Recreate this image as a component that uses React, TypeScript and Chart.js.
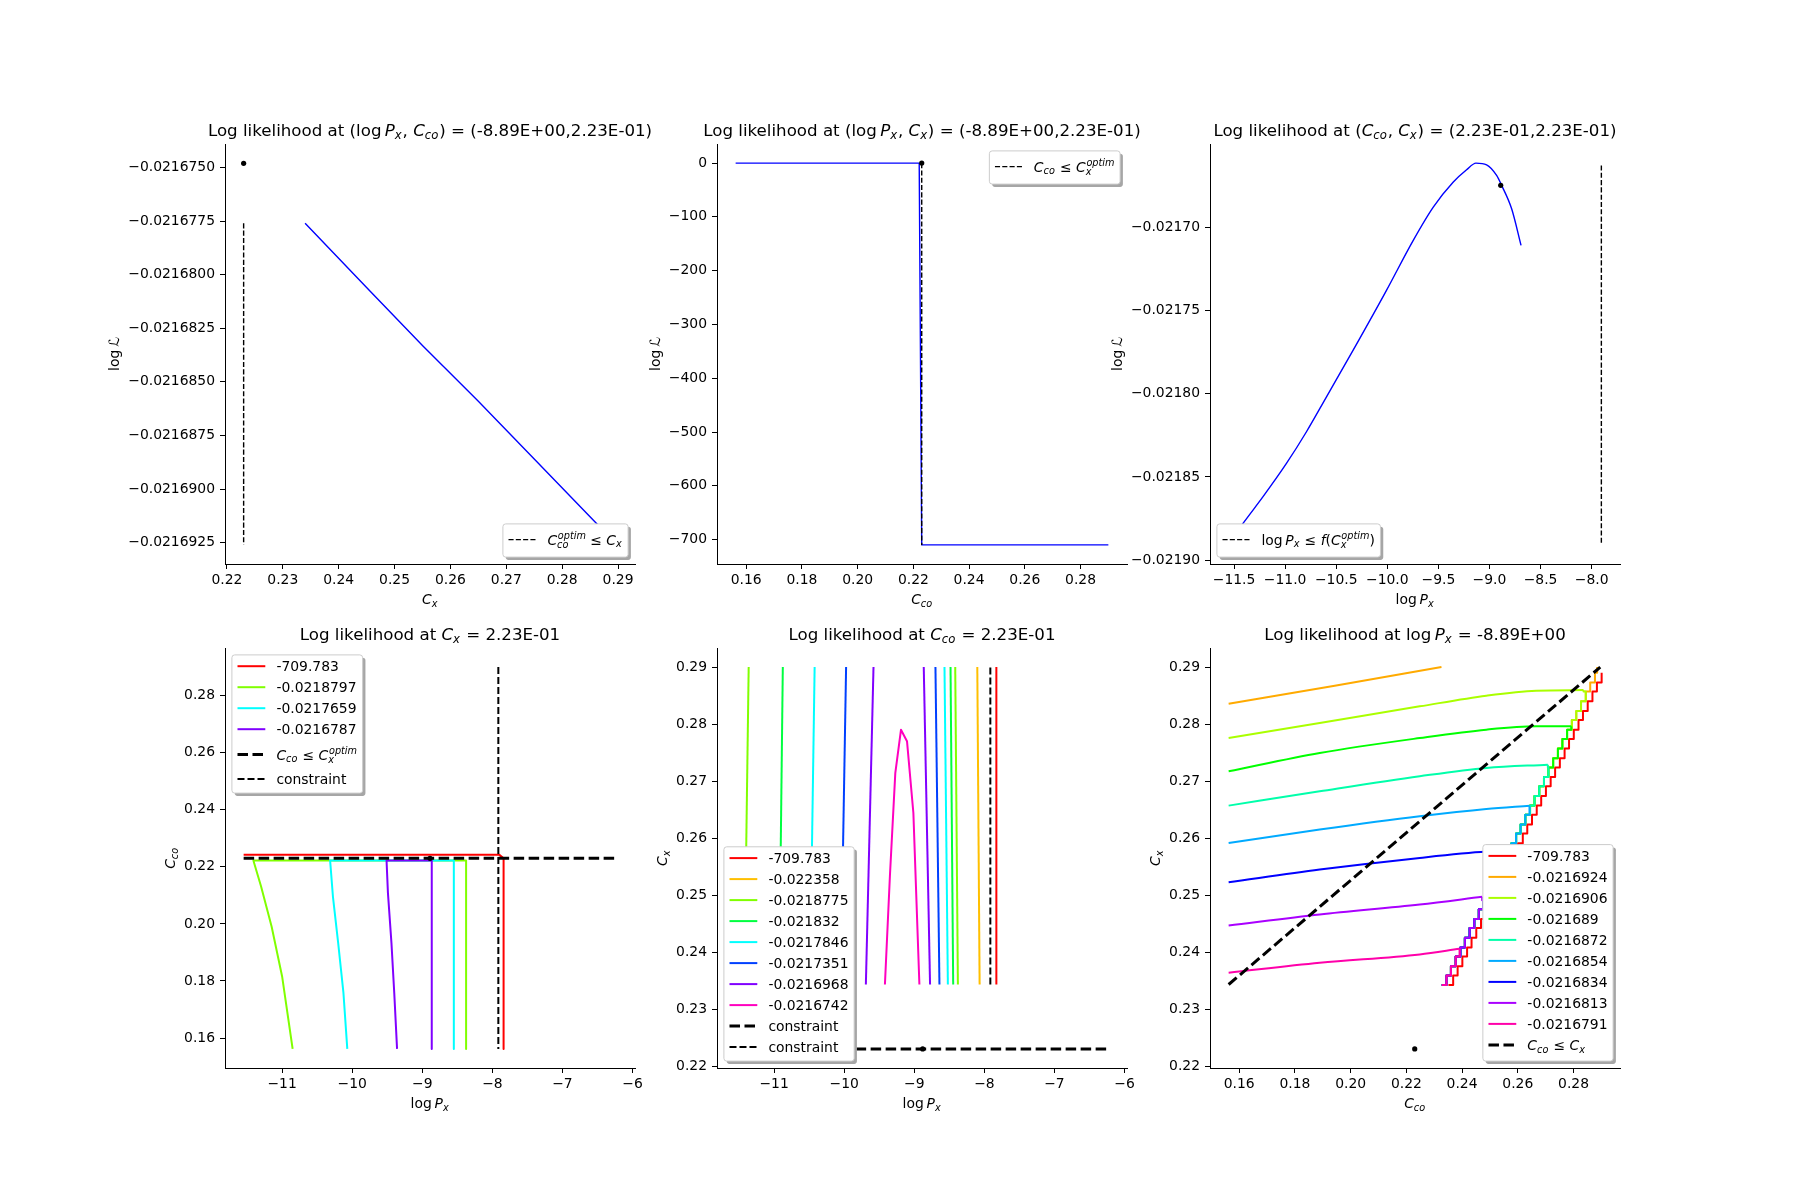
import React, { useEffect, useRef } from 'react';
import { Chart, registerables } from 'chart.js';
Chart.register(...registerables);

// ---------------- DATA ----------------
// Panel 1: log L vs C_x at (log Px, Cco) = (-8.89, 0.223)
const p1Cx = [0.234, 0.245, 0.255, 0.265, 0.275, 0.2865, 0.2897];
const p1LogL = [-0.0216776, -0.0216806, -0.0216833, -0.0216859, -0.0216886, -0.0216917, -0.0216926];
const p1DashCx = [0.223, 0.223];
const p1DashLogL = [-0.0216776, -0.0216926];
const p1OptCx = [0.223];
const p1OptLogL = [-0.0216748];
const p1XTicks = [0.22, 0.23, 0.24, 0.25, 0.26, 0.27, 0.28, 0.29];
const p1XLabels = ['0.22', '0.23', '0.24', '0.25', '0.26', '0.27', '0.28', '0.29'];
const p1YTicks = [-0.0216925, -0.02169, -0.0216875, -0.021685, -0.0216825, -0.02168, -0.0216775, -0.021675];
const p1YLabels = ['−0.0216925', '−0.0216900', '−0.0216875', '−0.0216850', '−0.0216825', '−0.0216800', '−0.0216775', '−0.0216750'];

// Panel 2: log L vs C_co
const p2Cco = [0.1562, 0.2221, 0.223, 0.29];
const p2LogL = [-0.0217, -0.0217, -709.783, -709.783];
const p2DashCco = [0.223, 0.223];
const p2DashLogL = [-0.0217, -709.783];
const p2OptCco = [0.223];
const p2OptLogL = [-0.0217];
const p2XTicks = [0.16, 0.18, 0.2, 0.22, 0.24, 0.26, 0.28];
const p2XLabels = ['0.16', '0.18', '0.20', '0.22', '0.24', '0.26', '0.28'];
const p2YTicks = [-700, -600, -500, -400, -300, -200, -100, 0];
const p2YLabels = ['−700', '−600', '−500', '−400', '−300', '−200', '−100', '0'];

// Panel 3: log L vs log Px
const p3LogPx = [-11.552, -11.412, -11.216, -10.987, -10.791, -10.595, -10.334, -10.008, -9.746, -9.55, -9.354, -9.224, -9.132, -9.028, -8.93, -8.881, -8.783, -8.691];
const p3LogL = [-0.0218904, -0.021878, -0.0218619, -0.0218419, -0.0218228, -0.0218018, -0.0217737, -0.0217377, -0.0217076, -0.0216876, -0.0216725, -0.0216651, -0.0216611, -0.0216621, -0.0216685, -0.0216745, -0.0216886, -0.0217106];
const p3DashLogPx = [-7.905, -7.905];
const p3DashLogL = [-0.0216625, -0.0218909];
const p3OptLogPx = [-8.89];
const p3OptLogL = [-0.0216745];
const p3XTicks = [-11.5, -11, -10.5, -10, -9.5, -9, -8.5, -8];
const p3XLabels = ['−11.5', '−11.0', '−10.5', '−10.0', '−9.5', '−9.0', '−8.5', '−8.0'];
const p3YTicks = [-0.0219, -0.02185, -0.0218, -0.02175, -0.0217];
const p3YLabels = ['−0.02190', '−0.02185', '−0.02180', '−0.02175', '−0.02170'];

// Panel 4: contours at C_x = 0.223 (x: log Px, y: Cco)
const p4Levels = ['-709.783', '-0.0218797', '-0.0217659', '-0.0216787'];
const p4Colors = ['#ff0000', '#80ff00', '#00ffff', '#8000ff'];
const p4RedLogPx = [-11.549, -7.9, -7.84, -7.84];
const p4RedCco = [0.2242, 0.2242, 0.223, 0.1562];
const p4LimeLogPx = [-10.85, -11.0, -11.15, -11.3, -11.41, -8.375, -8.375];
const p4LimeCco = [0.1562, 0.1816, 0.1991, 0.2131, 0.2222, 0.2222, 0.1562];
const p4CyanLogPx = [-10.07, -10.125, -10.2, -10.275, -10.315, -8.55, -8.55];
const p4CyanCco = [0.1562, 0.1758, 0.1933, 0.2096, 0.2222, 0.2222, 0.1562];
const p4VioletLogPx = [-9.36, -9.4, -9.44, -9.49, -9.51, -8.865, -8.865];
const p4VioletCco = [0.1562, 0.1758, 0.1933, 0.2108, 0.2222, 0.2222, 0.1562];
const p4OptimLogPx = [-11.549, -6.231];
const p4OptimCco = [0.223, 0.223];
const p4ConstrLogPx = [-7.915, -7.915];
const p4ConstrCco = [0.29, 0.1562];
const p4PointLogPx = [-8.89];
const p4PointCco = [0.223];
const p4XTicks = [-11, -10, -9, -8, -7, -6];
const p4XLabels = ['−11', '−10', '−9', '−8', '−7', '−6'];
const p4YTicks = [0.16, 0.18, 0.2, 0.22, 0.24, 0.26, 0.28];
const p4YLabels = ['0.16', '0.18', '0.20', '0.22', '0.24', '0.26', '0.28'];

// Panel 5: contours at Cco = 0.223 (x: log Px, y: C_x)
const p5Levels = ['-709.783', '-0.022358', '-0.0218775', '-0.021832', '-0.0217846', '-0.0217351', '-0.0216968', '-0.0216742'];
const p5Colors = ['#ff0000', '#ffbf00', '#80ff00', '#00ff40', '#00ffff', '#0040ff', '#8000ff', '#ff00bf'];
const p5EdgeCx = [0.2343, 0.29];
const p5LeftBottom = [NaN, NaN, -11.425, -10.928, -10.489, -10.05, -9.691, NaN];
const p5LeftTop = [NaN, NaN, -11.363, -10.876, -10.422, -9.973, -9.582, NaN];
const p5RightBottom = [-7.829, -8.068, -8.378, -8.445, -8.521, -8.641, -8.775, NaN];
const p5RightTop = [-7.829, -8.101, -8.416, -8.483, -8.569, -8.698, -8.865, NaN];
const p5ArchLogPx = [-9.419, -9.348, -9.271, -9.19, -9.104, -9.013, -8.927];
const p5ArchCx = [0.2343, 0.2533, 0.2714, 0.279, 0.277, 0.2644, 0.2343];
const p5HConstrLogPx = [-11.549, -6.231];
const p5HConstrCx = [0.223, 0.223];
const p5VConstrLogPx = [-7.915, -7.915];
const p5VConstrCx = [0.2343, 0.29];
const p5PointLogPx = [-8.88];
const p5PointCx = [0.223];
const p5YTicks = [0.22, 0.23, 0.24, 0.25, 0.26, 0.27, 0.28, 0.29];
const p5YLabels = ['0.22', '0.23', '0.24', '0.25', '0.26', '0.27', '0.28', '0.29'];

// Panel 6: contours at log Px = -8.89 (x: Cco, y: C_x)
const p6Levels = ['-709.783', '-0.0216924', '-0.0216906', '-0.021689', '-0.0216872', '-0.0216854', '-0.0216834', '-0.0216813', '-0.0216791'];
const p6Colors = ['#ff0000', '#ffaa00', '#aaff00', '#00ff00', '#00ffaa', '#00aaff', '#0000ff', '#aa00ff', '#ff00aa'];
const p6OrangeCco = [0.1562, 0.1943, 0.2326];
const p6OrangeCx = [0.28357, 0.28673, 0.29];
const p6YellowGreenCco = [0.1562, 0.1889, 0.2248, 0.2487, 0.2666, 0.2836];
const p6YellowGreenCx = [0.27755, 0.28018, 0.28311, 0.28498, 0.28586, 0.28597];
const p6GreenCco = [0.1562, 0.1889, 0.2248, 0.2487, 0.2666, 0.2792];
const p6GreenCx = [0.27171, 0.27493, 0.27755, 0.27902, 0.2796, 0.2796];
const p6SpringCco = [0.1562, 0.1889, 0.2248, 0.2487, 0.2708];
const p6SpringCx = [0.26569, 0.26821, 0.27084, 0.2723, 0.27288];
const p6SkyCco = [0.1562, 0.1889, 0.2248, 0.2487, 0.2642];
const p6SkyCx = [0.25915, 0.26149, 0.26382, 0.26511, 0.26569];
const p6BlueCco = [0.1562, 0.1889, 0.2248, 0.2487, 0.257];
const p6BlueCx = [0.25225, 0.25447, 0.25652, 0.25763, 0.2578];
const p6VioletCco = [0.1562, 0.1889, 0.2248, 0.2472];
const p6VioletCx = [0.24466, 0.24659, 0.24834, 0.24968];
const p6MagentaCco = [0.1562, 0.1889, 0.2248, 0.2391];
const p6MagentaCx = [0.23636, 0.23811, 0.23957, 0.24057];
const p6OrangeStairTop = [0.2885, 0.29];
// jagged boundary (bottom -> top)
const p6StairCx = [0.2342, 0.2359, 0.2375, 0.2392, 0.2408, 0.2425, 0.2442, 0.2458, 0.2475, 0.2491, 0.2508, 0.2525, 0.2541, 0.2558, 0.2574, 0.2591, 0.2608, 0.2624, 0.2641, 0.2657, 0.2674, 0.2691, 0.2707, 0.2724, 0.274, 0.2757, 0.2774, 0.279, 0.2807, 0.2823, 0.284, 0.2857, 0.2873, 0.289];
const p6StairOuterCco = [0.2351, 0.2368, 0.2384, 0.2401, 0.2418, 0.2434, 0.2451, 0.2468, 0.2484, 0.2501, 0.2518, 0.2534, 0.2551, 0.2568, 0.2584, 0.2601, 0.2618, 0.2634, 0.2651, 0.2668, 0.2684, 0.2701, 0.2718, 0.2734, 0.2751, 0.2768, 0.2784, 0.2801, 0.2818, 0.2834, 0.2851, 0.2868, 0.2884, 0.2901];
const p6StairInnerCco = [0.2327, 0.2344, 0.236, 0.2377, 0.2394, 0.241, 0.2427, 0.2444, 0.246, 0.2477, 0.2494, 0.251, 0.2527, 0.2544, 0.256, 0.2577, 0.2594, 0.261, 0.2627, 0.2644, 0.266, 0.2677, 0.2694, 0.271, 0.2727, 0.2744, 0.276, 0.2777, 0.2794, 0.281, 0.2827, 0.2844, 0.286, 0.2877];
const p6DiagCco = [0.1562, 0.2896];
const p6DiagCx = [0.2343, 0.29];
const p6PointCco = [0.223];
const p6PointCx = [0.223];

// ---------------- LAYOUT / STYLE ----------------
const FONT = '"DejaVu Sans", "Noto Sans", sans-serif';
const FS = 13.9;
const TFS = 16.67;
const AX_L = [225, 717, 1210];
const AX_T = [144, 648];
const AX_W = 410;
const AX_H = 420;
const PL = 150, PR = 30, PT = 40, PB = 60;

const THIN = { color: '#000000', width: 1.4, dash: [5.1, 2.2] };
const THICK = { color: '#000000', width: 3, dash: [10.5, 4.5] };
const MID = { color: '#000000', width: 2, dash: [7, 3] };
const BLUE = '#0000ff';
const CW = 2;

type Seg = { t?: string; i?: boolean; sub?: string; sup?: string };
type Series = { pts: { x: number; y: number }[]; color: string; width: number; dash?: number[]; stepped?: any; dot?: boolean; smooth?: boolean };
type LegItem = { label: Seg[]; color: string; width: number; dash?: number[]; kind: 'plain' | 'sub' | 'subsup' };

const zip = (xs: number[], ys: number[]) => xs.map((x, i) => ({ x, y: ys[i] }));
const line = (xs: number[], ys: number[], st: any): Series => ({ pts: zip(xs, ys), color: st.color, width: st.width, dash: st.dash });
const dot = (xs: number[], ys: number[]): Series => ({ pts: zip(xs, ys), color: '#000000', width: 0, dot: true });

// labels
const Cco: Seg = { t: 'C', i: true, sub: 'co' };
const Cx: Seg = { t: 'C', i: true, sub: 'x' };
const Px: Seg = { t: 'P', i: true, sub: 'x' };
const CcoOpt: Seg = { t: 'C', i: true, sub: 'co', sup: 'optim' };
const CxOpt: Seg = { t: 'C', i: true, sub: 'x', sup: 'optim' };
const LOG = 'log\u2009';
const logL: Seg[] = [{ t: LOG + 'ℒ' }];

const plainItems = (levels: string[], colors: string[]): LegItem[] =>
  levels.map((l, i) => ({ label: [{ t: l }], color: colors[i], width: CW, kind: 'plain' }));

// panel 5 series
const p5Series: Series[] = [];
p5Levels.forEach((_, i) => {
  if (!isNaN(p5LeftTop[i])) p5Series.push({ pts: zip([p5LeftBottom[i], p5LeftTop[i]], p5EdgeCx), color: p5Colors[i], width: CW });
  if (!isNaN(p5RightTop[i])) p5Series.push({ pts: zip([p5RightBottom[i], p5RightTop[i]], p5EdgeCx), color: p5Colors[i], width: CW });
});
p5Series.push({ pts: zip(p5ArchLogPx, p5ArchCx), color: p5Colors[7], width: CW });

// panel 6 series
function stairFrom(xe: number, ye: number, stairX: number[]) {
  const pts = [{ x: xe, y: ye }];
  for (let k = p6StairCx.length - 1; k >= 0; k--) if (p6StairCx[k] < ye - 1e-6) pts.push({ x: stairX[k], y: p6StairCx[k] });
  return pts;
}
const p6CurveList: [number[], number[]][] = [
  [p6OrangeCco, p6OrangeCx], [p6YellowGreenCco, p6YellowGreenCx], [p6GreenCco, p6GreenCx], [p6SpringCco, p6SpringCx],
  [p6SkyCco, p6SkyCx], [p6BlueCco, p6BlueCx], [p6VioletCco, p6VioletCx], [p6MagentaCco, p6MagentaCx],
];
const p6Series: Series[] = [];
{
  const n = p6StairCx.length - 1;
  p6Series.push({ pts: stairFrom(p6StairOuterCco[n], p6StairCx[n], p6StairOuterCco), color: p6Colors[0], width: CW, stepped: 'after' });
  p6CurveList.forEach(([xs, ys], j) => {
    const c = p6Colors[j + 1];
    p6Series.push({ pts: zip(xs, ys), color: c, width: CW, smooth: true });
    if (j === 0) {
      p6Series.push({ pts: stairFrom(p6OrangeStairTop[0], p6OrangeStairTop[1], p6StairInnerCco), color: c, width: CW, stepped: 'after' });
    } else {
      p6Series.push({ pts: stairFrom(xs[xs.length - 1], ys[ys.length - 1], p6StairInnerCco), color: c, width: CW, stepped: 'after' });
    }
  });
}

const panels = [
  {
    col: 0, row: 0, xMin: 0.219665, xMax: 0.293035, yMin: -0.0216935, yMax: -0.0216739,
    xTicks: p1XTicks, xLabels: p1XLabels, yTicks: p1YTicks, yLabels: p1YLabels,
    title: [{ t: 'Log likelihood at (' + LOG }, Px, { t: ', ' }, Cco, { t: ') = (-8.89E+00,2.23E-01)' }],
    xlabel: [Cx], ylabel: logL, legLoc: 'lower right',
    legend: [{ label: [CcoOpt, { t: ' ≤ ' }, Cx], ...THIN, kind: 'subsup' }],
    series: [{ pts: zip(p1Cx, p1LogL), color: BLUE, width: 1.4 }, line(p1DashCx, p1DashLogL, THIN), dot(p1OptCx, p1OptLogL)],
  },
  {
    col: 1, row: 0, xMin: 0.14951, xMax: 0.29669, yMin: -745.27, yMax: 35.47,
    xTicks: p2XTicks, xLabels: p2XLabels, yTicks: p2YTicks, yLabels: p2YLabels,
    title: [{ t: 'Log likelihood at (' + LOG }, Px, { t: ', ' }, Cx, { t: ') = (-8.89E+00,2.23E-01)' }],
    xlabel: [Cco], ylabel: logL, legLoc: 'upper right',
    legend: [{ label: [Cco, { t: ' ≤ ' }, CxOpt], ...THIN, kind: 'subsup' }],
    series: [{ pts: zip(p2Cco, p2LogL), color: BLUE, width: 1.4 }, line(p2DashCco, p2DashLogL, THIN), dot(p2OptCco, p2OptLogL)],
  },
  {
    col: 2, row: 0, xMin: -11.7351, xMax: -7.7226, yMin: -0.0219024, yMax: -0.0216496,
    xTicks: p3XTicks, xLabels: p3XLabels, yTicks: p3YTicks, yLabels: p3YLabels,
    title: [{ t: 'Log likelihood at (' }, Cco, { t: ', ' }, Cx, { t: ') = (2.23E-01,2.23E-01)' }],
    xlabel: [{ t: LOG }, Px], ylabel: logL, legLoc: 'lower left',
    legend: [{ label: [{ t: LOG }, Px, { t: ' ≤ ' }, { t: 'f', i: true }, { t: '(' }, CxOpt, { t: ')' }], ...THIN, kind: 'subsup' }],
    series: [{ pts: zip(p3LogPx, p3LogL), color: BLUE, width: 1.4, smooth: true }, line(p3DashLogPx, p3DashLogL, THIN), dot(p3OptLogPx, p3OptLogL)],
  },
  {
    col: 0, row: 1, xMin: -11.815, xMax: -5.965, yMin: 0.14951, yMax: 0.29669,
    xTicks: p4XTicks, xLabels: p4XLabels, yTicks: p4YTicks, yLabels: p4YLabels,
    title: [{ t: 'Log likelihood at ' }, Cx, { t: ' = 2.23E-01' }],
    xlabel: [{ t: LOG }, Px], ylabel: [Cco], legLoc: 'upper left',
    legend: [
      ...plainItems(p4Levels, p4Colors),
      { label: [Cco, { t: ' ≤ ' }, CxOpt], ...THICK, kind: 'subsup' },
      { label: [{ t: 'constraint' }], ...MID, kind: 'plain' },
    ],
    series: [
      { pts: zip(p4RedLogPx, p4RedCco), color: p4Colors[0], width: CW },
      { pts: zip(p4LimeLogPx, p4LimeCco), color: p4Colors[1], width: CW },
      { pts: zip(p4CyanLogPx, p4CyanCco), color: p4Colors[2], width: CW },
      { pts: zip(p4VioletLogPx, p4VioletCco), color: p4Colors[3], width: CW },
      line(p4OptimLogPx, p4OptimCco, THICK),
      line(p4ConstrLogPx, p4ConstrCco, MID),
      dot(p4PointLogPx, p4PointCco),
    ],
  },
  {
    col: 1, row: 1, xMin: -11.815, xMax: -5.965, yMin: 0.21965, yMax: 0.29335,
    xTicks: p4XTicks, xLabels: p4XLabels, yTicks: p5YTicks, yLabels: p5YLabels,
    title: [{ t: 'Log likelihood at ' }, Cco, { t: ' = 2.23E-01' }],
    xlabel: [{ t: LOG }, Px], ylabel: [Cx], legLoc: 'lower left',
    legend: [
      ...plainItems(p5Levels, p5Colors),
      { label: [{ t: 'constraint' }], ...THICK, kind: 'plain' },
      { label: [{ t: 'constraint' }], ...MID, kind: 'plain' },
    ],
    series: [
      ...p5Series,
      line(p5HConstrLogPx, p5HConstrCx, THICK),
      line(p5VConstrLogPx, p5VConstrCx, MID),
      dot(p5PointLogPx, p5PointCx),
    ],
  },
  {
    col: 2, row: 1, xMin: 0.14951, xMax: 0.29669, yMin: 0.21965, yMax: 0.29335,
    xTicks: p2XTicks, xLabels: p2XLabels, yTicks: p5YTicks, yLabels: p5YLabels,
    title: [{ t: 'Log likelihood at ' + LOG }, Px, { t: ' = -8.89E+00' }],
    xlabel: [Cco], ylabel: [Cx], legLoc: 'lower right',
    legend: [
      ...plainItems(p6Levels, p6Colors),
      { label: [Cco, { t: ' ≤ ' }, Cx], ...THICK, kind: 'sub' },
    ],
    series: [...p6Series, line(p6DiagCco, p6DiagCx, THICK), dot(p6PointCco, p6PointCx)],
  },
];

// ---------------- RICH TEXT ----------------
const fontStr = (size: number, it: boolean) => `${it ? 'italic ' : ''}${size}px ${FONT}`;
function segWidth(ctx: CanvasRenderingContext2D, s: Seg, size: number) {
  let w = 0;
  if (s.t) { ctx.font = fontStr(size, !!s.i); w += ctx.measureText(s.t).width; }
  let sw = 0;
  ctx.font = fontStr(size * 0.7, true);
  if (s.sub) sw = Math.max(sw, ctx.measureText(s.sub).width);
  if (s.sup) sw = Math.max(sw, ctx.measureText(s.sup).width);
  return w + sw + (s.sub || s.sup ? size * 0.05 : 0);
}
function richWidth(ctx: CanvasRenderingContext2D, segs: Seg[], size: number) {
  return segs.reduce((a, s) => a + segWidth(ctx, s, size), 0);
}
function drawRich(ctx: CanvasRenderingContext2D, segs: Seg[], x: number, y: number, size: number) {
  ctx.textAlign = 'left';
  ctx.textBaseline = 'alphabetic';
  for (const s of segs) {
    if (s.t) {
      ctx.font = fontStr(size, !!s.i);
      ctx.fillText(s.t, x, y);
      x += ctx.measureText(s.t).width;
    }
    if (s.sub || s.sup) {
      ctx.font = fontStr(size * 0.7, true);
      let sw = 0;
      const both = !!(s.sub && s.sup);
      if (s.sub) { ctx.fillText(s.sub, x, y + size * (both ? 0.27 : 0.2)); sw = Math.max(sw, ctx.measureText(s.sub).width); }
      if (s.sup) { ctx.fillText(s.sup, x + size * 0.05, y - size * 0.42); sw = Math.max(sw, ctx.measureText(s.sup).width); }
      x += sw + size * 0.05;
    }
  }
}
function roundRect(ctx: CanvasRenderingContext2D, x: number, y: number, w: number, h: number, r: number) {
  ctx.beginPath();
  ctx.moveTo(x + r, y);
  ctx.lineTo(x + w - r, y); ctx.arcTo(x + w, y, x + w, y + r, r);
  ctx.lineTo(x + w, y + h - r); ctx.arcTo(x + w, y + h, x + w - r, y + h, r);
  ctx.lineTo(x + r, y + h); ctx.arcTo(x, y + h, x, y + h - r, r);
  ctx.lineTo(x, y + r); ctx.arcTo(x, y, x + r, y, r);
  ctx.closePath();
}
const KIND: any = { plain: { h: 14.1, b: 10.6 }, sub: { h: 16.3, b: 10.6 }, subsup: { h: 22, b: 15 } };
function drawLegend(ctx: CanvasRenderingContext2D, p: any, a: any) {
  const items: LegItem[] = p.legend;
  const pad = 5.6, hl = 27.8, htp = 11.1, ls = 6.9, bap = 6.9;
  const tw = Math.max(...items.map((it) => richWidth(ctx, it.label, FS)));
  const w = pad + hl + htp + tw + pad;
  const h = pad * 2 + items.reduce((s, it) => s + KIND[it.kind].h, 0) + ls * (items.length - 1);
  const x = p.legLoc.includes('left') ? a.left + bap : a.right - bap - w;
  const y = p.legLoc.includes('upper') ? a.top + bap : a.bottom - bap - h;
  roundRect(ctx, x + 2.8, y + 2.8, w, h, 2.8);
  ctx.fillStyle = '#a6a6a6';
  ctx.fill();
  roundRect(ctx, x, y, w, h, 2.8);
  ctx.fillStyle = '#ffffff';
  ctx.fill();
  ctx.strokeStyle = '#cccccc';
  ctx.lineWidth = 1;
  ctx.stroke();
  let ry = y + pad;
  for (const it of items) {
    const k = KIND[it.kind];
    const base = ry + k.b;
    const hy = base - 4.9;
    ctx.beginPath();
    ctx.setLineDash(it.dash || []);
    ctx.lineWidth = it.width;
    ctx.strokeStyle = it.color;
    ctx.lineCap = 'butt';
    ctx.moveTo(x + pad, hy);
    ctx.lineTo(x + pad + hl, hy);
    ctx.stroke();
    ctx.setLineDash([]);
    ctx.fillStyle = '#000000';
    drawRich(ctx, it.label, x + pad + hl + htp, base, FS);
    ry += k.h + ls;
  }
}
function decor(p: any) {
  return {
    id: 'mplDecor',
    afterDraw(chart: any) {
      const ctx: CanvasRenderingContext2D = chart.ctx;
      const a = chart.chartArea;
      ctx.save();
      ctx.fillStyle = '#000000';
      const tw = richWidth(ctx, p.title, TFS);
      drawRich(ctx, p.title, (a.left + a.right) / 2 - tw / 2, a.top - 8.3, TFS);
      const xw = richWidth(ctx, p.xlabel, FS);
      drawRich(ctx, p.xlabel, (a.left + a.right) / 2 - xw / 2, a.bottom + 40, FS);
      ctx.font = fontStr(FS, false);
      const maxTick = Math.max(...p.yLabels.map((l: string) => ctx.measureText(l).width));
      const bx = a.left - 9.7 - maxTick - 5.6 - 3.5;
      const yw = richWidth(ctx, p.ylabel, FS);
      ctx.save();
      ctx.translate(bx, (a.top + a.bottom) / 2);
      ctx.rotate(-Math.PI / 2);
      drawRich(ctx, p.ylabel, -yw / 2, 0, FS);
      ctx.restore();
      drawLegend(ctx, p, a);
      ctx.restore();
    },
  };
}

function axisCfg(isX: boolean, min: number, max: number, ticks: number[], labels: string[]) {
  return {
    type: 'linear',
    position: isX ? 'bottom' : 'left',
    min,
    max,
    afterBuildTicks: (s: any) => { s.ticks = ticks.map((v) => ({ value: v })); },
    afterFit: (s: any) => { if (isX) s.height = PB; else s.width = PL; },
    ticks: {
      autoSkip: false, maxRotation: 0, minRotation: 0, padding: isX ? 3 : 5, color: '#000000',
      font: { family: FONT, size: FS },
      callback: (_v: any, i: number) => labels[i],
    },
    grid: { display: true, drawOnChartArea: false, drawTicks: true, tickLength: 5, tickWidth: 1, color: '#000000', lineWidth: 1 },
    border: { display: true, color: '#000000', width: 1 },
  };
}

function PanelView({ p }: { p: any }) {
  const ref = useRef<HTMLCanvasElement>(null);
  const W = AX_W + PL + PR;
  const H = AX_H + PT + PB;
  useEffect(() => {
    const n = p.series.length;
    const datasets = p.series.map((s: Series, i: number) => ({
      data: s.pts,
      showLine: !s.dot,
      borderColor: s.color,
      backgroundColor: s.color,
      borderWidth: s.dot ? 0 : s.width,
      borderDash: s.dash || [],
      borderCapStyle: 'butt',
      borderJoinStyle: 'round',
      pointRadius: s.dot ? 2.6 : 0,
      pointHoverRadius: 0,
      pointBorderWidth: 0,
      stepped: s.stepped || false,
      cubicInterpolationMode: s.smooth ? 'monotone' : 'default',
      tension: 0,
      order: n - i,
    }));
    const chart = new Chart(ref.current as HTMLCanvasElement, {
      type: 'scatter',
      data: { datasets },
      options: {
        animation: false,
        responsive: false,
        devicePixelRatio: 1,
        events: [],
        layout: { padding: { top: PT, right: PR, left: 0, bottom: 0 } },
        plugins: { legend: { display: false }, tooltip: { enabled: false }, title: { display: false } },
        scales: {
          x: axisCfg(true, p.xMin, p.xMax, p.xTicks, p.xLabels),
          y: axisCfg(false, p.yMin, p.yMax, p.yTicks, p.yLabels),
        },
      } as any,
      plugins: [decor(p)],
    });
    return () => chart.destroy();
  }, []);
  return (
    <canvas
      ref={ref}
      width={W}
      height={H}
      style={{ position: 'absolute', left: AX_L[p.col] - PL, top: AX_T[p.row] - PT, width: W, height: H }}
    />
  );
}

export default function App() {
  return (
    <div style={{ position: 'absolute', left: 0, top: 0, width: 1800, height: 1200, background: '#ffffff', overflow: 'hidden' }}>
      {panels.map((p, i) => (
        <PanelView key={i} p={p} />
      ))}
    </div>
  );
}
